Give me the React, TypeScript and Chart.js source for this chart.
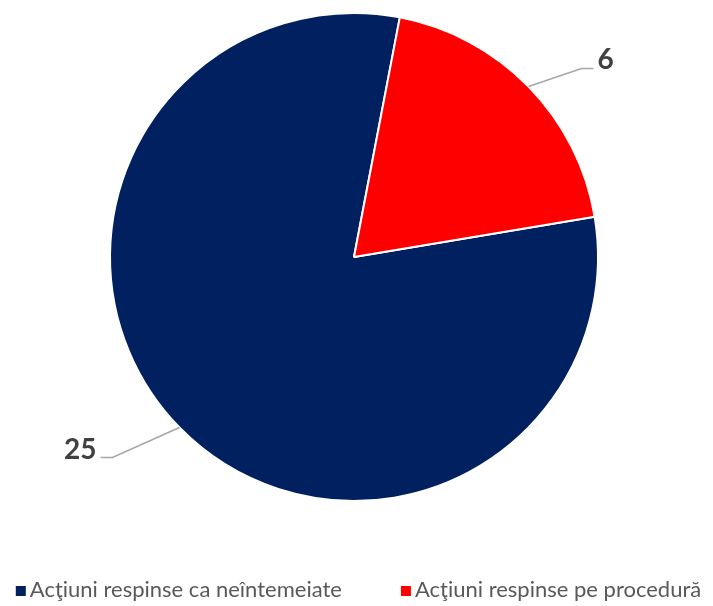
import React, { useEffect, useRef } from "react";
import { Chart, registerables } from "chart.js";

Chart.register(...registerables);

const categories = ["Acţiuni respinse ca neîntemeiate", "Acţiuni respinse pe procedură"];
const values = [25, 6];
const colors = ["#002060", "#FF0000"];

const FONT = "Lato, 'Liberation Sans', sans-serif";

// leader line elbow offsets relative to the slice edge (styling only)
const leaderOffsets = [
  { dx: -67, dy: 30, side: -1 },
  { dx: 53, dy: -18, side: 1 },
];

const leaderPlugin = {
  id: "leaderLabels",
  afterDatasetsDraw(chart: any) {
    const ctx = chart.ctx;
    const meta = chart.getDatasetMeta(0);
    const data = chart.data.datasets[0].data as number[];
    meta.data.forEach((arc: any, i: number) => {
      const { x, y, startAngle, endAngle, outerRadius } = arc.getProps(
        ["x", "y", "startAngle", "endAngle", "outerRadius"],
        true
      );
      const mid = (startAngle + endAngle) / 2;
      const ex = x + Math.cos(mid) * outerRadius;
      const ey = y + Math.sin(mid) * outerRadius;
      const off = leaderOffsets[i];
      const bx = ex + off.dx;
      const by = ey + off.dy;
      const hx = bx + off.side * 12;
      ctx.save();
      ctx.strokeStyle = "#A6A6A6";
      ctx.lineWidth = 1.5;
      ctx.beginPath();
      ctx.moveTo(ex, ey);
      ctx.lineTo(bx, by);
      ctx.lineTo(hx, by);
      ctx.stroke();
      ctx.fillStyle = "#404040";
      ctx.font = `bold 28px ${FONT}`;
      ctx.textBaseline = "alphabetic";
      ctx.textAlign = off.side > 0 ? "left" : "right";
      ctx.fillText(String(data[i]), hx + off.side * 4, by + 1);
      ctx.restore();
    });
  },
};

// bottom legend drawn from the chart's labels and colours
const legendPlugin = {
  id: "bottomLegend",
  afterDraw(chart: any) {
    const ctx = chart.ctx;
    const labels = chart.data.labels as string[];
    const bg = chart.data.datasets[0].backgroundColor as string[];
    const box = 10;
    const boxGap = 4;
    const itemGap = 59;
    const baseline = 597;
    ctx.save();
    ctx.font = `22px ${FONT}`;
    const widths = labels.map((l) => ctx.measureText(l).width);
    const total =
      widths.reduce((s, w) => s + box + boxGap + w, 0) + itemGap * (labels.length - 1);
    let x = chart.width / 2 + 2 - total / 2;
    labels.forEach((l, i) => {
      ctx.fillStyle = bg[i];
      ctx.fillRect(x, baseline - 11, box, box);
      x += box + boxGap;
      ctx.fillStyle = "#595959";
      ctx.textAlign = "left";
      ctx.textBaseline = "alphabetic";
      ctx.fillText(l, x, baseline);
      x += widths[i] + itemGap;
    });
    ctx.restore();
  },
};

export default function App() {
  const ref = useRef<HTMLCanvasElement>(null);
  useEffect(() => {
    if (!ref.current) return;
    const chart = new Chart(ref.current, {
      type: "pie",
      data: {
        labels: categories,
        datasets: [
          {
            data: values,
            backgroundColor: colors,
            borderColor: "#FFFFFF",
            borderWidth: 2,
          },
        ],
      },
      options: {
        responsive: false,
        animation: false,
        rotation: 80.5,
        radius: 244,
        layout: { padding: { top: 14, left: 0, right: 5, bottom: 106 } },
        plugins: {
          tooltip: { enabled: false },
          legend: { display: false },
        },
      },
      plugins: [leaderPlugin, legendPlugin],
    });
    return () => chart.destroy();
  }, []);
  return (
    <div style={{ position: "absolute", left: 0, top: 0, width: 713, height: 606, overflow: "hidden" }}>
      <canvas ref={ref} width={713} height={606} style={{ display: "block" }} />
    </div>
  );
}
